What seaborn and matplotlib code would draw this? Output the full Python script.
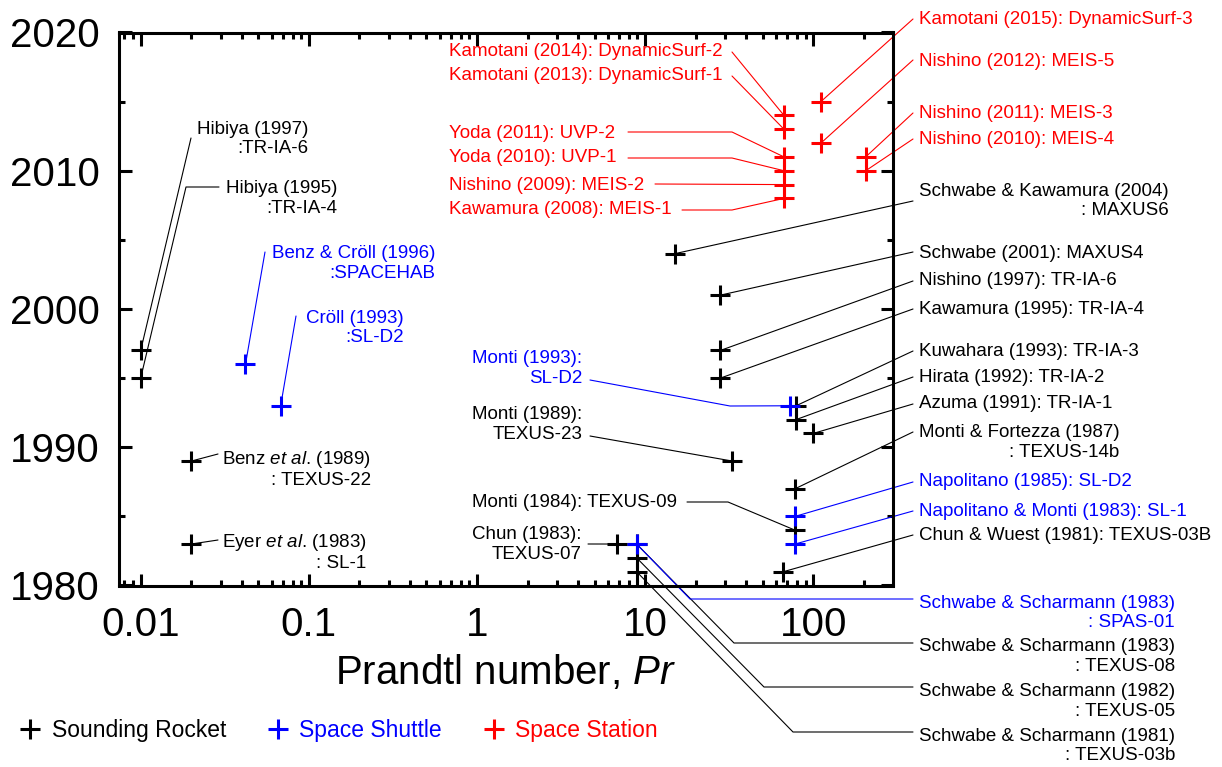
import matplotlib
matplotlib.use("Agg")
import numpy as np
import pandas as pd
import matplotlib.pyplot as plt
import seaborn as sns
from matplotlib.lines import Line2D
from matplotlib.ticker import FixedLocator, LogLocator, MultipleLocator, NullFormatter

# ---------------------------------------------------------------- data
rocket_labels = [
    "Hibiya (1997)\n:TR-IA-6",
    "Hibiya (1995)\n:TR-IA-4",
    "Benz $\\mathit{et}$ $\\mathit{al}$. (1989)\n: TEXUS-22",
    "Eyer $\\mathit{et}$ $\\mathit{al}$. (1983)\n: SL-1",
    "Schwabe & Kawamura (2004)\n: MAXUS6",
    "Schwabe (2001): MAXUS4",
    "Nishino (1997): TR-IA-6",
    "Kawamura (1995): TR-IA-4",
    "Kuwahara (1993): TR-IA-3",
    "Hirata (1992): TR-IA-2",
    "Azuma (1991): TR-IA-1",
    "Monti (1989):\nTEXUS-23",
    "Monti & Fortezza (1987)\n: TEXUS-14b",
    "Monti (1984): TEXUS-09",
    "Chun & Wuest (1981): TEXUS-03B",
    "Chun (1983):\nTEXUS-07",
    "Schwabe & Scharmann (1983)\n: TEXUS-08",
    "Schwabe & Scharmann (1982)\n: TEXUS-05",
    "Schwabe & Scharmann (1981)\n: TEXUS-03b",
]
rocket_pr = [0.01, 0.01, 0.02, 0.02, 15, 28, 28, 28, 79, 79, 100, 33,
             78, 78, 66.5, 6.8, 8.9, 8.9, 8.9]
rocket_year = [1997, 1995, 1989, 1983, 2004, 2001, 1997, 1995, 1993, 1992,
               1991, 1989, 1987, 1984, 1981, 1983, 1983, 1982, 1981]

shuttle_labels = [
    "Benz & Cröll (1996)\n:SPACEHAB",
    "Cröll (1993)\n:SL-D2",
    "Monti (1993):\nSL-D2",
    "Napolitano (1985): SL-D2",
    "Napolitano & Monti (1983): SL-1",
    "Schwabe & Scharmann (1983)\n: SPAS-01",
]
shuttle_pr = [0.042, 0.068, 73, 78, 78, 8.9]
shuttle_year = [1996, 1993, 1993, 1985, 1983, 1983]

station_labels = [
    "Kamotani (2015): DynamicSurf-3",
    "Nishino (2012): MEIS-5",
    "Kamotani (2014): DynamicSurf-2",
    "Kamotani (2013): DynamicSurf-1",
    "Yoda (2011): UVP-2",
    "Yoda (2010): UVP-1",
    "Nishino (2009): MEIS-2",
    "Kawamura (2008): MEIS-1",
    "Nishino (2011): MEIS-3",
    "Nishino (2010): MEIS-4",
]
station_pr = [111, 111, 67, 67, 67, 67, 67, 67, 205, 205]
station_year = [2015, 2012, 2014, 2013, 2011, 2010, 2009, 2008, 2011, 2010]

platforms = ["Sounding Rocket", "Space Shuttle", "Space Station"]
platform_colors = ["#000000", "#0000FF", "#FF0000"]

x_ticks = [0.01, 0.1, 1, 10, 100]
x_tick_labels = ["0.01", "0.1", "1", "10", "100"]
y_ticks = [1980, 1990, 2000, 2010, 2020]

# ---------------------------------------------------------------- label layout
# (text x, text y, horizontal alignment, leader-line waypoints), pixels from top-left
W, H = 1222, 767
R = 919  # left edge of the right-hand label column
rocket_layout = [
    (197, 139, "left", [(191, 138)]),
    (226, 198.5, "left", [(186, 187), (219, 187)]),
    (222, 469, "left", [(218, 454)]),
    (222, 552, "left", [(218, 540)]),
    (R, 201, "left", [(913, 201)]),
    (R, 253, "left", [(913, 252)]),
    (R, 281, "left", [(913, 281)]),
    (R, 310, "left", [(913, 309)]),
    (R, 351, "left", [(913, 351)]),
    (R, 377, "left", [(913, 377)]),
    (R, 403, "left", [(913, 404)]),
    (472, 424.5, "left", [(590, 436)]),
    (R, 442.5, "left", [(913, 432)]),
    (472, 502, "left", [(728, 502), (687, 502)]),
    (R, 535, "left", [(913, 535)]),
    (472, 544.5, "left", [(588, 544)]),
    (R, 656.5, "left", [(734, 643), (913, 643)]),
    (R, 701.5, "left", [(764, 687), (913, 687)]),
    (R, 746, "left", [(793, 732), (913, 732)]),
]
shuttle_layout = [
    (272, 263.5, "left", [(265, 252)]),
    (306, 328, "left", [(296, 316)]),
    (472, 368.5, "left", [(730, 406), (590, 380)]),
    (R, 481, "left", [(913, 482)]),
    (R, 511, "left", [(913, 511)]),
    (R, 613, "left", [(690, 599), (913, 599)]),
]
station_layout = [
    (R, 20, "left", [(913, 19)]),
    (R, 61, "left", [(913, 60)]),
    (449, 52, "left", [(732, 52)]),
    (449, 76, "left", [(732, 76)]),
    (449, 133, "left", [(732, 132), (628, 132)]),
    (449, 158, "left", [(732, 158), (628, 158)]),
    (449, 185, "left", [(655, 184)]),
    (449, 210, "left", [(732, 210), (682, 210)]),
    (R, 114, "left", [(913, 113)]),
    (R, 140, "left", [(913, 139)]),
]

# ---------------------------------------------------------------- style
sns.set_style("ticks")
plt.rcParams["font.family"] = ["Liberation Sans", "DejaVu Sans"]
plt.rcParams["mathtext.fontset"] = "custom"
plt.rcParams["mathtext.rm"] = "Liberation Sans"
plt.rcParams["mathtext.it"] = "Liberation Sans:italic"
plt.rcParams["axes.linewidth"] = 2.2
plt.rcParams["text.color"] = "black"
plt.rcParams["axes.labelcolor"] = "black"

df = pd.DataFrame({
    "pr": rocket_pr + shuttle_pr + station_pr,
    "year": rocket_year + shuttle_year + station_year,
    "platform": ([platforms[0]] * len(rocket_pr) + [platforms[1]] * len(shuttle_pr)
                 + [platforms[2]] * len(station_pr)),
    "label": rocket_labels + shuttle_labels + station_labels,
})
layout = rocket_layout + shuttle_layout + station_layout
palette = dict(zip(platforms, platform_colors))

fig = plt.figure(figsize=(W / 100, H / 100), dpi=100)
ax = fig.add_axes([118.7 / W, 1 - 585.5 / H, (893 - 118.7) / W, (585.5 - 32.5) / H])

sns.scatterplot(data=df, x="pr", y="year", hue="platform", hue_order=platforms,
                palette=palette, marker="+", s=207, linewidth=2.2,
                legend=False, ax=ax, zorder=3)

ax.set_xscale("log")
ax.set_xlim(0.0074, 298)
ax.set_ylim(1980, 2020)
ax.xaxis.set_major_locator(FixedLocator(x_ticks))
ax.set_xticklabels(x_tick_labels)
ax.xaxis.set_minor_locator(LogLocator(base=10, subs=np.arange(2, 10)))
ax.xaxis.set_minor_formatter(NullFormatter())
ax.yaxis.set_major_locator(FixedLocator(y_ticks))
ax.set_yticklabels([str(v) for v in y_ticks])
ax.yaxis.set_minor_locator(MultipleLocator(5))

ax.tick_params(which="both", direction="in", top=True, right=True,
               width=2.2, labelsize=29, colors="black")
ax.tick_params(which="major", length=9)
ax.tick_params(which="minor", length=4.5)
ax.tick_params(axis="x", pad=14.5)
ax.tick_params(axis="y", pad=13.5)
for sp in ax.spines.values():
    sp.set_visible(True)
    sp.set_color("black")
    sp.set_linewidth(2.2)

ax.set_xlabel("Prandtl number, $\\mathit{Pr}$", fontsize=29, labelpad=7,
              color="black")
ax.set_ylabel("")

# ---------------------------------------------------------------- labels and leader lines
to_fig = ax.transData + fig.transFigure.inverted()
for (_, row), (tx, ty, ha, path) in zip(df.iterrows(), layout):
    color = palette[row["platform"]]
    fx0, fy0 = to_fig.transform((row["pr"], row["year"]))
    xs = [fx0] + [p[0] / W for p in path]
    ys = [fy0] + [1 - p[1] / H for p in path]
    ax.add_line(Line2D(xs, ys, transform=fig.transFigure, clip_on=False,
                       color=color, lw=0.8, zorder=1))
    fig.text(tx / W, 1 - ty / H, row["label"], ha=ha, va="center",
             multialignment="right", color=color, fontsize=13.5)

# ---------------------------------------------------------------- legend
handles = [Line2D([], [], marker="+", ls="", color=c, markersize=14.4, mew=2.2)
           for c in platform_colors]
leg = fig.legend(handles, platforms, loc="center left",
                 bbox_to_anchor=(18.5 / W, 1 - 731 / H), ncol=3, frameon=False,
                 fontsize=16.5, handlelength=1.0, handletextpad=0.45,
                 columnspacing=1.75, borderpad=0, borderaxespad=0)
for txt, c in zip(leg.get_texts(), platform_colors):
    txt.set_color(c)

fig.savefig("out.png", dpi=100)
